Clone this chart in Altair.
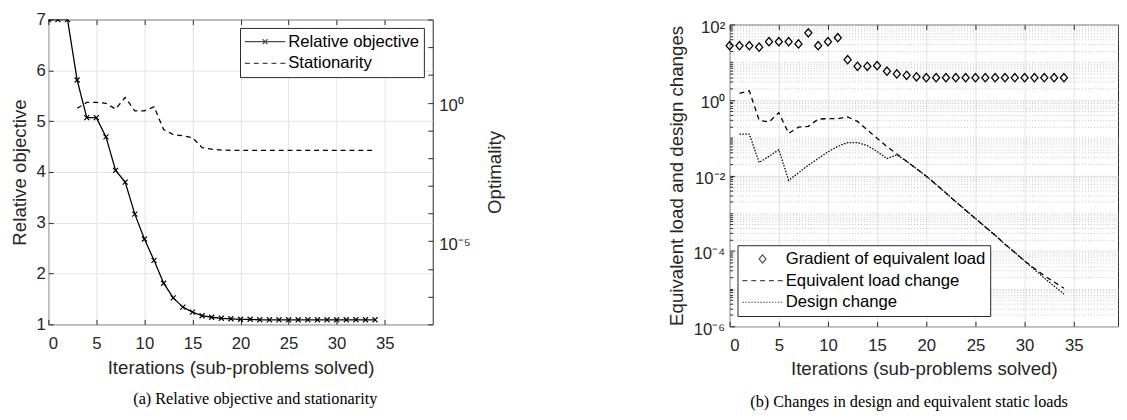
import altair as alt
import pandas as pd

# ---------------- data ----------------
iters = [0, 1, 2, 3, 4, 5, 6, 7, 8, 9, 10, 11, 12, 13, 14, 15, 16, 17, 18, 19,
         20, 21, 22, 23, 24, 25, 26, 27, 28, 29, 30, 31, 32, 33, 34]
rel_objective = [7.0, 7.0, 7.0, 5.81, 5.07, 5.07, 4.69, 4.03, 3.80, 3.17,
                 2.68, 2.26, 1.81, 1.52, 1.34, 1.24, 1.17, 1.14, 1.12, 1.11,
                 1.10, 1.10, 1.09, 1.09, 1.09, 1.09, 1.09, 1.09, 1.09, 1.09,
                 1.09, 1.09, 1.09, 1.09, 1.09]

stat_iters = [3, 4, 5, 6, 7, 8, 9, 10, 11, 12, 13, 14, 15, 16, 17, 18, 19,
              20, 21, 22, 23, 24, 25, 26, 27, 28, 29, 30, 31, 32, 33, 34]
stationarity = [0.63, 1.02, 1.02, 0.95, 0.59, 1.55, 0.51, 0.51, 0.71, 0.107,
                0.071, 0.064, 0.055, 0.024, 0.021, 0.0195, 0.019, 0.019, 0.019,
                0.019, 0.019, 0.019, 0.019, 0.019, 0.019, 0.019, 0.019, 0.019,
                0.019, 0.019, 0.019, 0.019]

grad_load = [27.5, 27.5, 27.5, 25.0, 35.0, 35.0, 35.0, 30.5, 60.0, 27.5,
             35.0, 44.6, 11.7, 7.8, 7.8, 8.1, 5.8, 4.9, 4.5, 4.1,
             3.9, 3.9, 3.9, 3.9, 3.9, 3.9, 3.9, 3.9, 3.9, 3.9,
             3.9, 3.9, 3.9, 3.9, 3.9]

chg_iters = [1, 2, 3, 4, 5, 6, 7, 8, 9, 10, 11, 12, 13, 14, 15, 16, 17, 18,
             19, 20, 21, 22, 23, 24, 25, 26, 27, 28, 29, 30, 31, 32, 33, 34]
equiv_change = [1.5, 1.75, 0.29, 0.26, 0.46, 0.13, 0.19, 0.20, 0.31, 0.32,
                0.32, 0.355, 0.27, 0.16, 0.096, 0.058, 0.037, 0.0237, 0.015,
                9.5e-3, 5.75e-3, 3.4e-3, 2.0e-3, 1.2e-3, 7.2e-4, 4.3e-4,
                2.6e-4, 1.5e-4, 9.1e-5, 5.4e-5, 3.4e-5, 2.2e-5, 1.5e-5, 1.02e-5]
design_change = [0.125, 0.125, 0.022, 0.032, 0.048, 0.0074, 0.0117, 0.0186,
                 0.028, 0.042, 0.059, 0.074, 0.074, 0.062, 0.043, 0.028, 0.035,
                 0.0237, 0.015, 9.5e-3, 5.75e-3, 3.4e-3, 2.0e-3, 1.2e-3,
                 7.2e-4, 4.3e-4, 2.6e-4, 1.5e-4, 9.1e-5, 5.4e-5, 3.2e-5,
                 1.9e-5, 1.17e-5, 7.2e-6]

x_ticks = [0, 5, 10, 15, 20, 25, 30, 35]
rel_ticks = [1, 2, 3, 4, 5, 6, 7]
opt_decades = [1e-8, 1e-7, 1e-6, 1e-5, 1e-4, 1e-3, 1e-2, 1e-1, 1, 10, 100, 1000]
right_major = [1e-6, 1e-4, 1e-2, 1, 100]
right_minor = [m * 10.0 ** e for e in range(-6, 2) for m in range(1, 10)
               if not (m == 1 and e % 2 == 0)]

legend_names_l = ["Relative objective", "Stationarity"]
legend_names_r = ["Gradient of equivalent load", "Equivalent load change", "Design change"]

caption_a = "(a) Relative objective and stationarity"
caption_b = "(b) Changes in design and equivalent static loads"

# ---------------- styles ----------------
FONT = "Liberation Sans"
SERIF = "Liberation Serif"
AX = "#262626"
GRID = "#e2e2e2"
MINOR = "#c4c4c4"
X_PATH = "M-1,-1L1,1M-1,1L1,-1"
DIAMOND_PATH = "M-1,0L0,-1.17L1,0L0,1.17Z"
LINE_SYM = "M-1,0L1,0"
OBJ_SYM = "M-1,0L1,0M-0.12,-0.12L0.12,0.12M-0.12,0.12L0.12,-0.12"
DIAMOND_SYM = "M-0.17,0L0,-0.2L0.17,0L0,0.2Z"
DASH = [5, 4]
DOT = [1.5, 1.5]


def axis(**kw):
    cfg = dict(labelFont=FONT, labelFontSize=17, labelColor=AX,
               titleFont=FONT, titleFontSize=19, titleFontWeight="normal",
               titleColor=AX, tickColor=AX, tickWidth=1, domain=False,
               grid=False, tickSize=alt.ExprRef(expr="-5"))
    cfg.update(kw)
    return alt.Axis(**cfg)


def legend(x, y):
    return alt.Legend(title=None, orient="none", legendX=x, legendY=y,
                      strokeColor=AX, fillColor="white", padding=4,
                      labelFont=FONT, labelFontSize=17, labelColor="black",
                      labelOffset=2, labelLimit=400, symbolSize=1681,
                      symbolStrokeWidth=1.2, symbolStrokeColor="black",
                      symbolFillColor="transparent", clipHeight=20,
                      rowPadding=2)


def sup_expr(mapping):
    e = "round(log(datum.value)/LN10)"
    expr = "''"
    for k, v in mapping.items():
        expr = f"({e} == {k} ? '{v}' : {expr})"
    return expr


# ---------------- left panel ----------------
df_obj = pd.DataFrame({"iter": iters, "value": rel_objective})
df_stat = pd.DataFrame({"iter": stat_iters, "value": stationarity})
x_scale_l = alt.Scale(domain=[0, 40], nice=False, zero=False)

obj_layer = alt.Chart(df_obj).mark_line(
    color="black", strokeWidth=1.3, clip=True,
    point=alt.OverlayMarkDef(shape=X_PATH, filled=False, size=26,
                             color="black", strokeWidth=1.2, clip=True),
).encode(
    x=alt.X("iter:Q", scale=x_scale_l,
            axis=axis(values=x_ticks, grid=True, gridColor=GRID,
                      title="Iterations (sub-problems solved)",
                      labelPadding=16.5, titlePadding=7)),
    y=alt.Y("value:Q", scale=alt.Scale(domain=[1, 7], nice=False, zero=False),
            axis=axis(values=rel_ticks, grid=True, gridColor=GRID,
                      title="Relative objective", labelPadding=8,
                      titlePadding=6.5)),
)

stat_layer = alt.Chart(df_stat).mark_line(
    color="black", strokeWidth=1.3, strokeDash=DASH
).encode(
    x=alt.X("iter:Q", scale=x_scale_l,
            axis=axis(orient="top", values=x_ticks, labels=False, title=None)),
    y=alt.Y("value:Q", scale=alt.Scale(type="log", domain=[1e-8, 1e3], nice=False),
            axis=axis(orient="right", values=opt_decades,
                      labelExpr=sup_expr({0: "10⁰", -5: "10⁻⁵"}),
                      labelOffset=3,
                      title="Optimality", titleAngle=270, titleBaseline="top",
                      labelPadding=11, titlePadding=16)),
)

leg_l = alt.Chart(pd.DataFrame({"name": legend_names_l})).transform_filter(
    "false").mark_point(filled=False, color="black").encode(
    shape=alt.Shape("name:N", scale=alt.Scale(domain=legend_names_l,
                                              range=[OBJ_SYM, LINE_SYM]),
                    legend=legend(195, 8.5)),
    strokeDash=alt.StrokeDash("name:N", scale=alt.Scale(domain=legend_names_l,
                                                        range=[[1, 0], DASH]),
                              legend=legend(195, 8.5)),
)

left = alt.layer(obj_layer, stat_layer, leg_l).resolve_scale(
    y="independent").resolve_axis(x="independent", y="independent").properties(
    width=391, height=310,
    title=alt.TitleParams(caption_a, orient="bottom", anchor="middle",
                          frame="group", dx=15, offset=15, font=SERIF,
                          fontSize=16.5, fontWeight="normal", color="black",
                          subtitle=" ", subtitleFontSize=1, subtitlePadding=7))

# ---------------- right panel ----------------
df_grad = pd.DataFrame({"iter": iters, "value": grad_load})
df_eq = pd.DataFrame({"iter": chg_iters, "value": equiv_change})
df_des = pd.DataFrame({"iter": chg_iters, "value": design_change})
x_scale_r = alt.Scale(domain=[0, 39.5], nice=False, zero=False)
y_scale_r = alt.Scale(type="log", domain=[1e-6, 1e2], nice=False)

grad_layer = alt.Chart(df_grad).mark_point(
    shape=DIAMOND_PATH, filled=False, size=52, color="black",
    strokeWidth=1.3, opacity=1
).encode(
    x=alt.X("iter:Q", scale=x_scale_r,
            axis=axis(values=x_ticks, grid=True, gridColor=GRID,
                      title="Iterations (sub-problems solved)",
                      labelPadding=16.5, titlePadding=7)),
    y=alt.Y("value:Q", scale=y_scale_r,
            axis=axis(values=right_major, grid=True, gridColor=GRID,
                      labelExpr=sup_expr({2: "10²", 0: "10⁰", -2: "10⁻²",
                                          -4: "10⁻⁴", -6: "10⁻⁶"}),
                      labelOffset=3,
                      title="Equivalent load and design changes",
                      labelPadding=10, titlePadding=7)),
)

eq_layer = alt.Chart(df_eq).mark_line(
    color="black", strokeWidth=1.3, strokeDash=DASH
).encode(
    x=alt.X("iter:Q", scale=x_scale_r,
            axis=axis(orient="top", values=x_ticks, labels=False, title=None)),
    y=alt.Y("value:Q", scale=y_scale_r,
            axis=axis(orient="right", values=right_minor, labels=False,
                      ticks=False, grid=True, gridColor=MINOR,
                      gridDash=[1, 2], title=None)),
)

des_layer = alt.Chart(df_des).mark_line(
    color="black", strokeWidth=1.3, strokeDash=DOT
).encode(
    x=alt.X("iter:Q", scale=x_scale_r, axis=None),
    y=alt.Y("value:Q", scale=y_scale_r,
            axis=axis(orient="left", values=right_minor, labels=False,
                      tickSize=alt.ExprRef(expr="-3"), title=None)),
)

leg_r = alt.Chart(pd.DataFrame({"name": legend_names_r})).transform_filter(
    "false").mark_point(filled=False, color="black").encode(
    shape=alt.Shape("name:N", scale=alt.Scale(domain=legend_names_r,
                                              range=[DIAMOND_SYM, LINE_SYM, LINE_SYM]),
                    legend=legend(8, 224.5)),
    strokeDash=alt.StrokeDash("name:N", scale=alt.Scale(domain=legend_names_r,
                                                        range=[[1, 0], DASH, DOT]),
                              legend=legend(8, 224.5)),
)

right = alt.layer(grad_layer, eq_layer, des_layer, leg_r).resolve_axis(
    x="independent", y="independent").properties(
    width=395, height=307,
    title=alt.TitleParams(caption_b, orient="bottom", anchor="middle",
                          frame="group", dx=-15, offset=16, font=SERIF,
                          fontSize=16.5, fontWeight="normal", color="black"))

chart = alt.hconcat(left, right, spacing=164, center=True).resolve_scale(
    shape="independent", strokeDash="independent").resolve_legend(
    shape="independent", strokeDash="independent").properties(
    padding={"left": 2, "top": -2, "right": 0, "bottom": 0}
).configure_view(stroke=AX, strokeWidth=1)

chart.save("out.html", embed_options={"renderer": "svg", "actions": False})
